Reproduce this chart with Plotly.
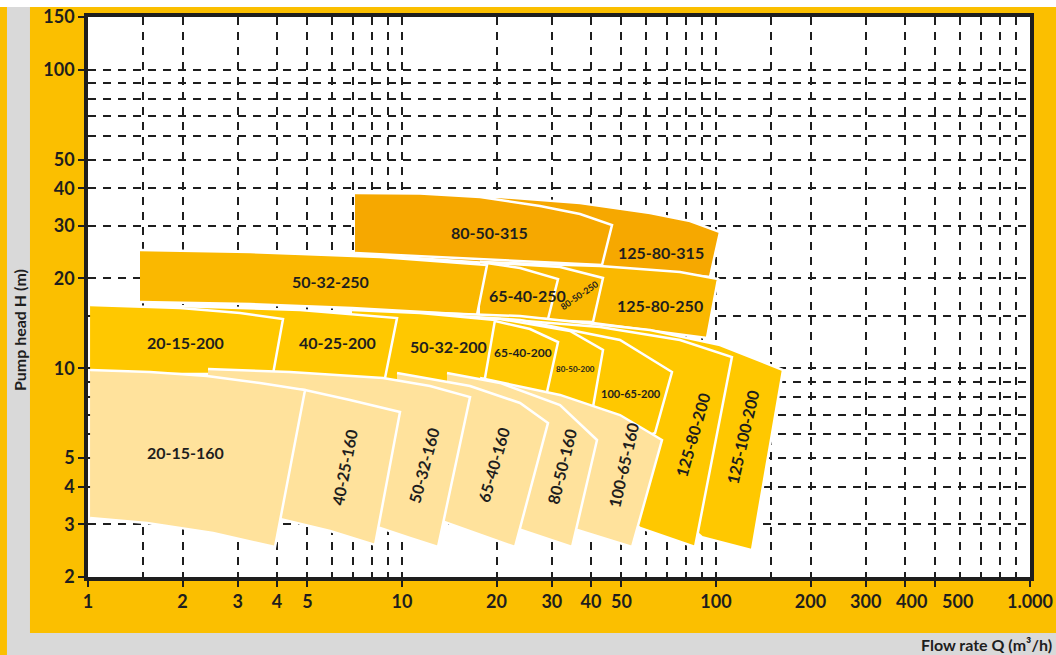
import numpy as np
import plotly.graph_objects as go

# ---------------- colours ----------------
BG = "#FBBF00"
C315 = "#F6A800"
C250 = "#FAB800"
C200 = "#FFC800"
C160 = "#FFE29C"
INK = "#1E1E1E"

# ---------------- axes ----------------
x_tick_vals = [1, 2, 3, 4, 5, 10, 20, 30, 40, 50, 100, 200, 300, 400, 500, 1000]
x_tick_text = ["1", "2", "3", "4", "5", "10", "20", "30", "40", "50", "100", "200",
               "", "", "", "1.000"]
# the 300/400/500 labels sit slightly off their ticks in the original, so they are placed apart
x_label_extra_text = ["300", "400", "500"]
x_label_extra_q = [300, 418, 586]
x_grid_extra = [1.5, 6, 7, 8, 9, 60, 70, 80, 90, 150, 600, 700, 800, 900]
y_tick_vals = [2, 3, 4, 5, 10, 20, 30, 40, 50, 100, 150]
y_tick_text = ["2", "3", "4", "5", "10", "20", "30", "40", "50", "100", "150"]
y_grid_extra = [6, 7, 8, 9, 15, 60, 70, 80, 90]

# ---------------- pump regions: flow Q (m3/h) and head H (m) ----------------
q_125_80_315 = [9.854, 20.52, 36.89, 61.64, 82.66, 103.0, 95.7, 43.35, 18.65, 9.854]
h_125_80_315 = [37.73, 37.45, 35.75, 33.11, 31.12, 28.59, 20.21, 21.83, 22.51, 23.58]
q_80_50_315 = [7.085, 11.41, 17.72, 27.51, 36.89, 46.65, 43.35, 17.72, 7.085]
h_80_50_315 = [38.63, 38.48, 37.45, 34.93, 32.85, 30.17, 22.16, 23.22, 24.31]

q_125_80_250 = [17.72, 42.72, 76.80, 101.5, 93.6, 40.58, 17.72]
h_125_80_250 = [22.68, 22.00, 21.01, 19.90, 12.63, 14.17, 14.73]
q_80_50_250 = [17.72, 31.86, 43.67, 40.58, 17.72]
h_80_50_250 = [22.68, 21.83, 20.06, 14.28, 14.73]
q_65_40_250 = [17.72, 23.76, 31.40, 29.17, 17.72]
h_65_40_250 = [22.68, 21.66, 19.90, 14.62, 14.85]
q_50_32_250 = [1.464, 3.281, 8.511, 18.65, 17.33, 6.931, 3.281, 1.464]
h_50_32_250 = [24.88, 24.50, 23.58, 22.16, 15.08, 15.91, 16.41, 16.67]

q_125_100_200 = [8.511, 23.76, 61.64, 103.0, 163.5, 130.2, 90.25, 66.32, 23.76, 8.511]
h_125_100_200 = [15.55, 14.96, 13.43, 11.96, 9.86, 2.46, 2.72, 3.62, 4.56, 4.56]
q_125_80_200 = [8.511, 22.57, 42.72, 76.80, 112.4, 85.74, 57.28, 42.72, 20.52, 8.511]
h_125_80_200 = [15.31, 14.51, 13.74, 12.43, 10.90, 2.52, 2.92, 3.76, 4.56, 4.56]
q_100_65_200 = [9.158, 23.76, 49.46, 72.42, 63.94, 31.86, 9.158]
h_100_65_200 = [15.43, 14.51, 12.43, 9.71, 6.07, 4.56, 4.56]
q_80_50_200 = [9.158, 20.52, 34.28, 43.67, 40.58, 20.52, 9.158]
h_80_50_200 = [15.31, 14.62, 13.33, 11.51, 7.42, 4.56, 4.56]
q_65_40_200 = [8.511, 19.78, 25.56, 31.40, 28.96, 16.47, 8.511]
h_65_40_200 = [15.31, 14.39, 13.53, 12.24, 8.32, 4.56, 4.56]
q_50_32_200 = [6.931, 11.41, 19.78, 18.38, 11.41, 6.931]
h_50_32_200 = [15.67, 15.31, 14.51, 9.27, 6.71, 4.56]
q_40_25_200 = [1.920, 4.734, 9.641, 8.829, 4.734, 1.920]
h_40_25_200 = [16.16, 15.67, 14.73, 9.27, 7.83, 7.83]
q_20_15_200 = [1.015, 1.963, 3.049, 4.178, 3.883, 1.015]
h_20_15_200 = [16.29, 15.91, 15.31, 14.62, 9.56, 9.56]

q_100_65_160 = [17.72, 31.86, 49.46, 67.30, 54.02, 36.36, 17.72]
h_100_65_160 = [9.27, 8.14, 6.97, 5.75, 2.52, 2.87, 3.48]
q_80_50_160 = [13.91, 20.52, 31.86, 41.79, 34.79, 24.11, 13.91]
h_80_50_160 = [9.64, 8.93, 7.53, 5.75, 2.52, 2.87, 3.48]
q_65_40_160 = [9.641, 16.47, 23.76, 29.17, 22.90, 13.91, 9.641]
h_65_40_160 = [9.64, 8.72, 7.65, 6.56, 2.52, 3.03, 3.48]
q_50_32_160 = [2.411, 4.399, 8.700, 12.28, 16.47, 13.02, 10.60, 8.511, 4.734, 2.411]
h_50_32_160 = [9.94, 9.71, 9.27, 8.72, 8.01, 2.52, 2.70, 2.92, 3.35, 3.48]
q_40_25_160 = [4.088, 4.911, 6.830, 9.854, 8.204, 5.898, 4.088]
h_40_25_160 = [8.59, 8.45, 7.83, 7.14, 2.56, 2.85, 3.13]
q_20_15_160 = [1.015, 1.576, 2.393, 3.529, 4.911, 3.940, 2.501, 1.541, 1.015]
h_20_15_160 = [9.86, 9.71, 9.42, 8.93, 8.45, 2.52, 2.81, 3.03, 3.15]

# drawing order: back to front
regions = [
    (q_125_80_315, h_125_80_315, C315), (q_80_50_315, h_80_50_315, C315),
    (q_125_80_250, h_125_80_250, C250), (q_80_50_250, h_80_50_250, C250),
    (q_65_40_250, h_65_40_250, C250), (q_50_32_250, h_50_32_250, C250),
    (q_125_100_200, h_125_100_200, C200), (q_125_80_200, h_125_80_200, C200),
    (q_100_65_200, h_100_65_200, C200), (q_80_50_200, h_80_50_200, C200),
    (q_65_40_200, h_65_40_200, C200), (q_50_32_200, h_50_32_200, C200),
    (q_40_25_200, h_40_25_200, C200), (q_20_15_200, h_20_15_200, C200),
    (q_100_65_160, h_100_65_160, C160), (q_80_50_160, h_80_50_160, C160),
    (q_65_40_160, h_65_40_160, C160), (q_50_32_160, h_50_32_160, C160),
    (q_40_25_160, h_40_25_160, C160), (q_20_15_160, h_20_15_160, C160),
]

# ---------------- labels ----------------
label_text = ["80-50-315", "125-80-315", "50-32-250", "65-40-250", "80-50-250", "125-80-250",
              "20-15-200", "40-25-200", "50-32-200", "65-40-200", "80-50-200", "100-65-200",
              "125-80-200", "125-100-200",
              "20-15-160", "40-25-160", "50-32-160", "65-40-160", "80-50-160", "100-65-160"]
label_q = [18.93, 66.81, 5.94, 25.01, 36.62, 66.32,
           2.051, 6.21, 14.11, 24.29, 35.82, 53.62,
           84.51, 121.9,
           2.051, 6.58, 11.75, 19.49, 32.33, 50.54]
label_h = [28.59, 24.50, 19.45, 17.59, 17.46, 16.16,
           12.24, 12.15, 11.87, 11.25, 9.94, 8.26,
           5.98, 5.89,
           5.24, 4.67, 4.71, 4.74, 4.67, 4.74]
label_size = [16, 16, 16, 16, 9, 16,
              16, 16, 16, 12, 8, 11,
              16, 16,
              16, 16, 16, 16, 16, 16]
label_angle = [0, 0, 0, 0, -35, 0,
               0, 0, 0, 0, 0, 0,
               -74, -77,
               0, -79, -75, -74, -76, -77]

fig = go.Figure()
for q, h, col in regions:
    fig.add_trace(go.Scatter(x=q, y=h, mode="lines", fill="toself", fillcolor=col,
                             line=dict(color="white", width=2.5), hoverinfo="skip",
                             showlegend=False))

for t, q, h, s, a in zip(label_text, label_q, label_h, label_size, label_angle):
    fig.add_annotation(x=np.log10(q), y=np.log10(h), xref="x", yref="y", text=t,
                       showarrow=False, textangle=a,
                       font=dict(family="Lato", size=s, color=INK, weight="bold"))

grid_common = dict(showgrid=True, gridcolor=INK, griddash="8px,7px", gridwidth=1.6)
tick_font = dict(family="Lato", size=18, color=INK, weight="bold")

for t, q in zip(x_label_extra_text, x_label_extra_q):
    fig.add_annotation(x=np.log10(q), y=-0.0429, xref="x", yref="paper", text=t,
                       showarrow=False, xanchor="center", yanchor="middle", font=tick_font)

fig.update_xaxes(type="log", range=[-0.0001, 3.0001], tickmode="array",
                 tickvals=x_tick_vals, ticktext=x_tick_text, tickangle=0, automargin=False,
                 ticks="outside", ticklen=6,
                 tickwidth=1.5, tickcolor=INK, showline=True, linecolor=INK, linewidth=3.5,
                 mirror=True, zeroline=False, tickfont=tick_font,
                 minor=dict(tickmode="array", tickvals=x_grid_extra, ticks="", **grid_common),
                 **grid_common)
fig.update_yaxes(type="log", range=[np.log10(2) - 0.0001, np.log10(150) + 0.0001],
                 tickmode="array", tickvals=y_tick_vals, ticktext=y_tick_text,
                 tickangle=0, automargin=False,
                 ticks="outside", ticklen=6, tickwidth=1.5, tickcolor=INK, showline=True,
                 linecolor=INK, linewidth=3.5, mirror=True, zeroline=False, tickfont=tick_font,
                 minor=dict(tickmode="array", tickvals=y_grid_extra, ticks="", **grid_common),
                 **grid_common)

# page decoration (white top strip, grey label bands)
fig.add_shape(type="rect", xref="paper", yref="paper", x0=-0.2, x1=1.2, y0=1.0179, y1=1.1,
              fillcolor="white", line=dict(width=0), layer="above")
fig.add_shape(type="rect", xref="paper", yref="paper", x0=-0.0860, x1=-0.0616, y0=-0.2, y1=1.0179,
              fillcolor="#D9D9D9", line=dict(width=0), layer="above")
fig.add_shape(type="rect", xref="paper", yref="paper", x0=-0.0860, x1=1.2, y0=-0.2, y1=-0.1,
              fillcolor="#D9D9D9", line=dict(width=0), layer="above")

fig.add_annotation(xref="paper", yref="paper", x=-0.0732, y=0.441, text="Pump head H (m)",
                   textangle=-90, showarrow=False, xanchor="center", yanchor="middle",
                   font=dict(family="Lato", size=16, color=INK, weight="bold"))
fig.add_annotation(xref="paper", yref="paper", x=1.0255, y=-0.1214, text="Flow rate Q (m³/h)",
                   showarrow=False, xanchor="right", yanchor="middle",
                   font=dict(family="Lato", size=16, color=INK, weight="bold"))

fig.update_layout(width=1056, height=655, autosize=False,
                  margin=dict(l=88, r=26, t=17, b=78),
                  paper_bgcolor=BG, plot_bgcolor="white", showlegend=False)

fig.write_html("out.html", config={"displayModeBar": False},
               post_script="document.body.style.margin='0';document.body.style.overflow='hidden';")
